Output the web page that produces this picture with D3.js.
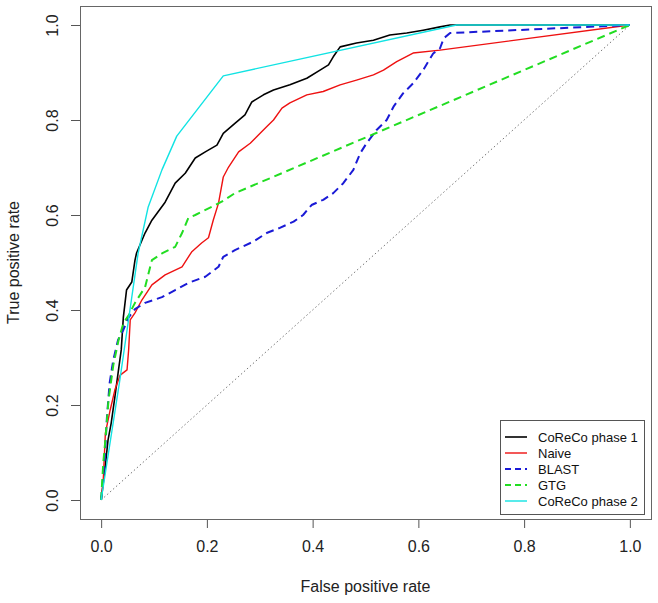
<!DOCTYPE html>
<html>
<head>
<meta charset="utf-8">
<script src="https://cdn.jsdelivr.net/npm/d3@7"></script>
<style>
  body { margin: 0; background: #fff; }
  text { font-family: "Liberation Sans", Arial, Helvetica, sans-serif; }
</style>
</head>
<body>
<div id="chart"></div>
<script>
// ROC curves, [false positive rate, true positive rate]
var corecoPhase1 = [[0,0],[0.007,0.063],[0.013,0.126],[0.019,0.162],[0.026,0.217],[0.032,0.267],
    [0.038,0.316],[0.042,0.385],[0.048,0.442],[0.058,0.459],[0.064,0.505],[0.067,0.52],[0.083,0.562],
    [0.096,0.589],[0.121,0.627],[0.14,0.667],[0.159,0.688],[0.178,0.72],[0.197,0.733],[0.219,0.747],
    [0.231,0.772],[0.253,0.793],[0.272,0.811],[0.285,0.838],[0.307,0.853],[0.326,0.863],[0.357,0.874],
    [0.389,0.888],[0.414,0.905],[0.43,0.916],[0.439,0.933],[0.452,0.954],[0.483,0.962],[0.515,0.968],
    [0.546,0.979],[0.578,0.983],[0.609,0.989],[0.641,0.996],[0.66,1],[1,1]];

var naive = [[0,0],[0.004,0.042],[0.008,0.141],[0.017,0.189],[0.026,0.232],[0.036,0.263],[0.049,0.274],
    [0.052,0.316],[0.055,0.379],[0.064,0.394],[0.077,0.421],[0.096,0.453],[0.121,0.474],[0.153,0.491],
    [0.171,0.522],[0.19,0.541],[0.203,0.552],[0.212,0.589],[0.222,0.625],[0.231,0.68],[0.241,0.701],
    [0.26,0.733],[0.282,0.751],[0.297,0.768],[0.313,0.786],[0.326,0.8],[0.342,0.825],[0.357,0.836],
    [0.389,0.853],[0.42,0.86],[0.452,0.874],[0.483,0.884],[0.515,0.895],[0.534,0.905],[0.559,0.923],
    [0.59,0.941],[0.641,0.947],[1,1]];

var blast = [[0,0],[0.007,0.091],[0.011,0.175],[0.016,0.246],[0.023,0.295],[0.032,0.337],[0.042,0.358],
    [0.051,0.383],[0.064,0.402],[0.083,0.415],[0.115,0.427],[0.14,0.442],[0.165,0.457],[0.197,0.47],
    [0.222,0.491],[0.231,0.512],[0.253,0.526],[0.288,0.544],[0.313,0.562],[0.338,0.573],[0.364,0.586],
    [0.382,0.6],[0.398,0.621],[0.42,0.632],[0.439,0.646],[0.458,0.667],[0.477,0.695],[0.49,0.73],
    [0.502,0.751],[0.521,0.779],[0.54,0.8],[0.553,0.828],[0.571,0.856],[0.59,0.877],[0.609,0.905],
    [0.628,0.94],[0.641,0.951],[0.648,0.972],[0.66,0.983],[1,1]];

var gtg = [[0,0],[0.004,0.078],[0.008,0.126],[0.014,0.211],[0.023,0.284],[0.033,0.337],[0.042,0.372],
    [0.052,0.389],[0.064,0.415],[0.083,0.448],[0.096,0.505],[0.115,0.519],[0.14,0.533],[0.153,0.562],
    [0.165,0.594],[0.178,0.6],[0.209,0.617],[0.228,0.628],[0.253,0.646],[1,1]];

var corecoPhase2 = [[0,0],[0.035,0.25],[0.07,0.52],[0.089,0.617],[0.115,0.695],[0.143,0.766],
    [0.231,0.893],[0.672,1],[1,1]];

var seriesNames = ["CoReCo phase 1", "Naive", "BLAST", "GTG", "CoReCo phase 2"];
var seriesColors = ["#000000", "#ee1111", "#1a1ad6", "#22dd22", "#11e3e3"];
var seriesDash = [null, null, "8,5", "8,5", null];
var seriesWidth = [1.6, 1.4, 2, 2, 1.4];
var tickValues = [0, 0.2, 0.4, 0.6, 0.8, 1.0];

(function() {
    var width = 658, height = 603;
    var box = { left: 80, right: 651, top: 6, bottom: 519 };
    var data = [corecoPhase1, naive, blast, gtg, corecoPhase2];

    var svg = d3.select("#chart")
        .append("svg")
        .attr("width", width)
        .attr("height", height);

    svg.append("rect")
        .attr("width", width)
        .attr("height", height)
        .attr("fill", "#fff");

    // R pads the data range by 4% on each side
    var x = d3.scaleLinear().domain([-0.04, 1.04]).range([box.left, box.right]);
    var y = d3.scaleLinear().domain([-0.04, 1.04]).range([box.bottom, box.top]);

    var xAxis = svg.append("g")
        .attr("transform", "translate(0," + box.bottom + ")")
        .call(d3.axisBottom(x).tickValues(tickValues).tickSize(9).tickPadding(13).tickFormat(d3.format(".1f")));
    xAxis.select(".domain").remove();
    xAxis.selectAll("line").attr("stroke", "#555");
    xAxis.selectAll("text").attr("font-size", 16).attr("fill", "#222")
        .attr("font-family", "Liberation Sans, Arial, sans-serif");

    var yAxis = svg.append("g")
        .attr("transform", "translate(" + box.left + ",0)")
        .call(d3.axisLeft(y).tickValues(tickValues).tickSize(9).tickFormat(d3.format(".1f")));
    yAxis.select(".domain").remove();
    yAxis.selectAll("line").attr("stroke", "#555");
    // y tick labels run parallel to the axis, as R does by default
    yAxis.selectAll("text")
        .attr("x", 0).attr("y", 0).attr("dy", null)
        .attr("text-anchor", "middle")
        .attr("dominant-baseline", "central")
        .attr("transform", "translate(-28,0) rotate(-90)")
        .attr("font-size", 16).attr("fill", "#222")
        .attr("font-family", "Liberation Sans, Arial, sans-serif");

    // chance line
    svg.append("line")
        .attr("x1", x(0)).attr("y1", y(0))
        .attr("x2", x(1)).attr("y2", y(1))
        .attr("stroke", "#777")
        .attr("stroke-width", 1)
        .attr("stroke-dasharray", "1.5,2.5");

    var line = d3.line()
        .x(function(d) { return x(d[0]); })
        .y(function(d) { return y(d[1]); });

    svg.selectAll(".roc")
        .data(data)
        .enter().append("path")
        .attr("class", "roc")
        .attr("d", line)
        .attr("fill", "none")
        .attr("stroke", function(d, i) { return seriesColors[i]; })
        .attr("stroke-width", function(d, i) { return seriesWidth[i]; })
        .attr("stroke-dasharray", function(d, i) { return seriesDash[i]; })
        .attr("stroke-linejoin", "round");

    svg.append("rect")
        .attr("x", box.left + 0.5).attr("y", box.top + 0.5)
        .attr("width", box.right - box.left).attr("height", box.bottom - box.top)
        .attr("fill", "none")
        .attr("stroke", "#666")
        .attr("stroke-width", 1);

    // axis titles
    svg.append("text")
        .attr("x", (box.left + box.right) / 2)
        .attr("y", 586)
        .attr("text-anchor", "middle")
        .attr("dominant-baseline", "central")
        .attr("font-size", 16)
        .attr("fill", "#222")
        .text("False positive rate");

    svg.append("text")
        .attr("transform", "translate(13," + (box.top + box.bottom) / 2 + ") rotate(-90)")
        .attr("text-anchor", "middle")
        .attr("dominant-baseline", "central")
        .attr("font-size", 16)
        .attr("fill", "#222")
        .text("True positive rate");

    // legend
    var legend = svg.append("g");
    legend.append("rect")
        .attr("x", 500.5).attr("y", 420.5)
        .attr("width", 144).attr("height", 94)
        .attr("fill", "#fff")
        .attr("stroke", "#555");

    var rows = legend.selectAll(".row")
        .data(seriesNames)
        .enter().append("g")
        .attr("class", "row")
        .attr("transform", function(d, i) { return "translate(0," + (437 + i * 16) + ")"; });

    rows.append("line")
        .attr("x1", 505).attr("x2", 527)
        .attr("stroke", function(d, i) { return seriesColors[i]; })
        .attr("stroke-width", function(d, i) { return seriesWidth[i]; })
        .attr("stroke-dasharray", function(d, i) { return seriesDash[i] ? "6,4" : null; });

    rows.append("text")
        .attr("x", 538)
        .attr("dominant-baseline", "central")
        .attr("font-size", 13)
        .attr("fill", "#111")
        .text(function(d) { return d; });
})();
</script>
</body>
</html>
